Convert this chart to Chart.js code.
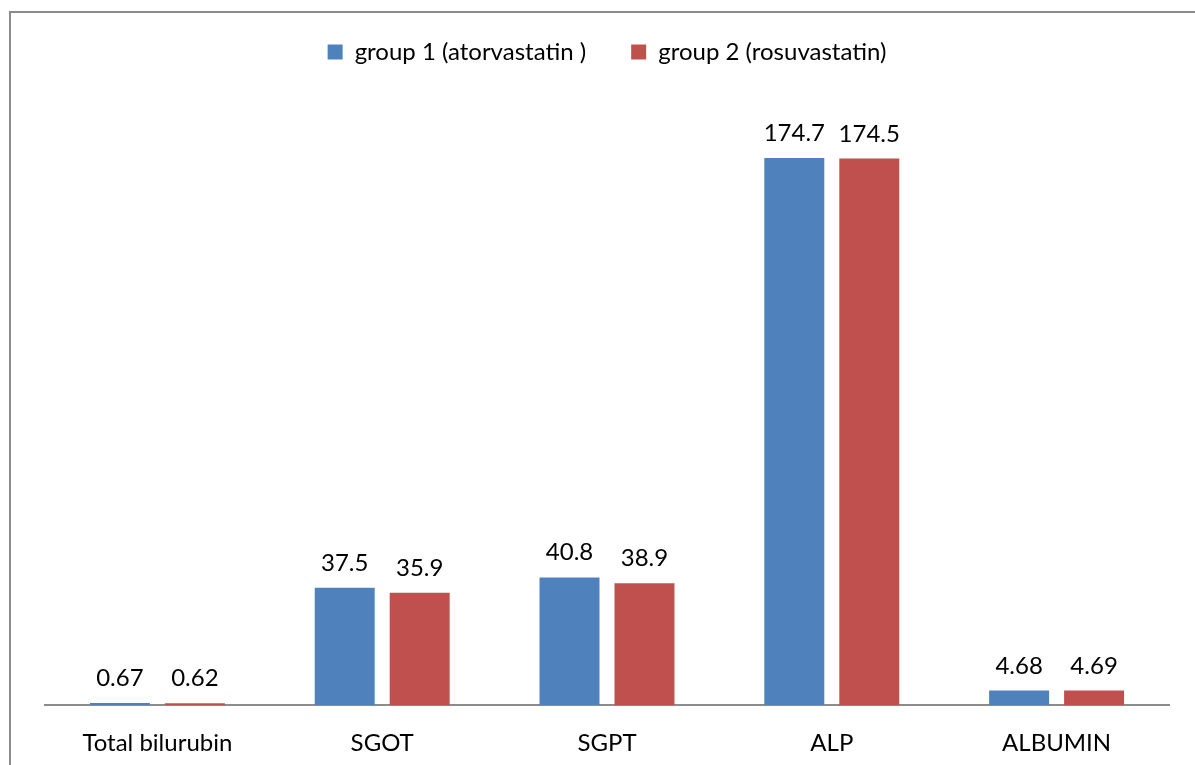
<!DOCTYPE html>
<html>
<head>
<meta charset="utf-8">
<script src="https://cdn.jsdelivr.net/npm/chart.js@4/dist/chart.umd.min.js"></script>
<style>
  html, body { margin: 0; padding: 0; background: #ffffff; }
  #wrap { width: 1195px; height: 765px; position: relative; }
</style>
</head>
<body>
<div id="wrap"><canvas id="c" width="1195" height="765"></canvas></div>
<script>
const categories = ['Total bilurubin', 'SGOT', 'SGPT', 'ALP', 'ALBUMIN'];
const group1Values = [0.67, 37.5, 40.8, 174.7, 4.68];
const group2Values = [0.62, 35.9, 38.9, 174.5, 4.69];
const seriesNames = ['group 1 (atorvastatin )', 'group 2 (rosuvastatin)'];

const FONT = 'Lato, "Open Sans", "DejaVu Sans", sans-serif';
const FONT_SIZE = 24;

// Frame around the chart: left and top edges
const framePlugin = {
  id: 'frame',
  beforeDraw(chart) {
    const ctx = chart.ctx;
    ctx.save();
    ctx.strokeStyle = '#8c8c8c';
    ctx.lineWidth = 2;
    ctx.beginPath();
    ctx.moveTo(10, chart.height);
    ctx.lineTo(10, 12);
    ctx.lineTo(chart.width, 12);
    ctx.stroke();
    ctx.restore();
  }
};

// Value labels above each bar
const valueLabels = {
  id: 'valueLabels',
  afterDatasetsDraw(chart) {
    const ctx = chart.ctx;
    ctx.save();
    ctx.font = FONT_SIZE + 'px ' + FONT;
    ctx.fillStyle = '#000000';
    ctx.textAlign = 'center';
    ctx.textBaseline = 'alphabetic';
    chart.data.datasets.forEach((ds, i) => {
      chart.getDatasetMeta(i).data.forEach((bar, j) => {
        ctx.fillText(String(ds.data[j]), bar.x, bar.y - 17);
      });
    });
    ctx.restore();
  }
};

new Chart(document.getElementById('c'), {
  type: 'bar',
  data: {
    labels: categories,
    datasets: [
      { label: seriesNames[0], data: group1Values, backgroundColor: '#4F81BD' },
      { label: seriesNames[1], data: group2Values, backgroundColor: '#C0504D' }
    ]
  },
  options: {
    responsive: false,
    animation: false,
    devicePixelRatio: 1,
    layout: { padding: { left: 45, right: 26, top: -5, bottom: -17 } },
    datasets: {
      bar: { categoryPercentage: 0.667, barPercentage: 0.8 }
    },
    scales: {
      x: {
        grid: { display: false, drawTicks: false },
        border: { display: true, color: '#8c8c8c', width: 2 },
        ticks: { color: '#000000', font: { family: FONT, size: FONT_SIZE }, padding: 24, maxRotation: 0 }
      },
      y: {
        display: false,
        min: 0,
        max: 201.5
      }
    },
    plugins: {
      legend: {
        position: 'top',
        labels: {
          color: '#000000',
          font: { family: FONT, size: FONT_SIZE },
          boxWidth: 15,
          boxHeight: 15,
          padding: 45
        }
      },
      tooltip: { enabled: false }
    }
  },
  plugins: [framePlugin, valueLabels]
});
</script>
</body>
</html>
